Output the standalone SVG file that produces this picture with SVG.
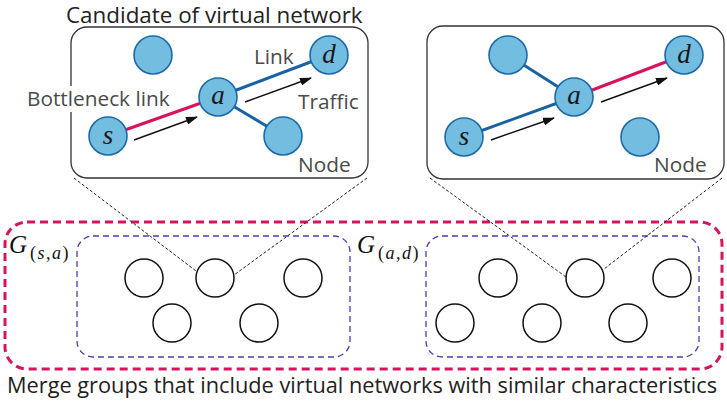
<svg xmlns="http://www.w3.org/2000/svg" width="727" height="403" viewBox="0 0 727 403">
  <style>
    .panel { fill: #ffffff; stroke: #333333; stroke-width: 1.3; }
    .vn { fill: #72bde0; stroke: #1c6aa8; stroke-width: 1.6; }
    .lk { stroke: #1a62a3; stroke-width: 3; fill: none; }
    .bn { stroke: #d8135d; stroke-width: 3; fill: none; }
    .flow { stroke: #111111; stroke-width: 1.4; fill: none; marker-end: url(#head); }
    .var { font-family: "Liberation Serif", serif; font-style: italic; font-size: 27px; fill: #1a1a1a; text-anchor: middle; }
    .lbl { font-family: "Open Sans", "Noto Sans", sans-serif; font-size: 20.8px; fill: #4a4a4a; }
    .ttl { font-family: "Open Sans", "Noto Sans", sans-serif; font-size: 22.4px; fill: #222222; }
    .grp { fill: none; stroke: #4a3db0; stroke-width: 1.3; stroke-dasharray: 6 4; }
    .merge { fill: none; stroke: #d8135d; stroke-width: 3; stroke-dasharray: 8 5; }
    .cand { fill: #ffffff; stroke: #111111; stroke-width: 1.5; }
    .zoomline { stroke: #222222; stroke-width: 1; stroke-dasharray: 3 2; fill: none; }
    .gsym { font-family: "Liberation Serif", serif; fill: #111111; }
    .it { font-style: italic; }
  </style>
  <defs>
    <marker id="head" viewBox="0 0 12 8" refX="11" refY="4" markerWidth="12" markerHeight="8" markerUnits="userSpaceOnUse" orient="auto">
      <path d="M0,0 L12,4 L0,8 Z" fill="#111111"/>
    </marker>
  </defs>

  <!-- title of the left panel -->
  <text class="ttl" x="66" y="23" font-size="22">Candidate of virtual network</text>

  <!-- left panel: bottleneck on (s,a) -->
  <g id="panel-sa">
    <rect class="panel" x="71" y="27" width="297" height="151" rx="16"/>
    <g id="links-sa">
      <line class="bn" x1="108" y1="136" x2="218" y2="97"/>
      <line class="lk" x1="218" y1="97" x2="329" y2="55"/>
      <line class="lk" x1="218" y1="97" x2="283" y2="136"/>
      <line class="flow" x1="134" y1="140" x2="197" y2="117"/>
      <line class="flow" x1="245" y1="102" x2="311" y2="78"/>
    </g>
    <g id="sa-n1"><circle class="vn" cx="153" cy="55" r="19"/></g>
    <g id="sa-d"><circle class="vn" cx="329" cy="55" r="19"/><text class="var" x="329" y="63">d</text></g>
    <g id="sa-a"><circle class="vn" cx="218" cy="97" r="19"/><text class="var" x="218" y="104">a</text></g>
    <g id="sa-s"><circle class="vn" cx="108" cy="136" r="19"/><text class="var" x="108" y="144">s</text></g>
    <g id="sa-n2"><circle class="vn" cx="283" cy="136" r="19"/></g>
    <text class="lbl" x="254" y="64">Link</text>
    <text class="lbl" x="298" y="109">Traffic</text>
    <text class="lbl" x="298" y="172">Node</text>
    <!-- the label sits over the panel edge, which is masked behind it -->
    <rect x="68" y="86" width="7" height="26" fill="#ffffff"/>
    <text class="lbl" x="27" y="106">Bottleneck link</text>
  </g>

  <!-- right panel: bottleneck on (a,d) -->
  <g id="panel-ad">
    <rect class="panel" x="427" y="26" width="297" height="153" rx="16"/>
    <g id="links-ad">
      <line class="lk" x1="464" y1="137" x2="574" y2="97"/>
      <line class="lk" x1="508" y1="55" x2="574" y2="97"/>
      <line class="bn" x1="574" y1="97" x2="684" y2="55"/>
      <line class="flow" x1="491" y1="140" x2="554" y2="118"/>
      <line class="flow" x1="601" y1="102" x2="667" y2="78"/>
    </g>
    <g id="ad-n1"><circle class="vn" cx="508" cy="55" r="19"/></g>
    <g id="ad-d"><circle class="vn" cx="684" cy="55" r="19"/><text class="var" x="684" y="63">d</text></g>
    <g id="ad-a"><circle class="vn" cx="574" cy="97" r="19"/><text class="var" x="574" y="104">a</text></g>
    <g id="ad-s"><circle class="vn" cx="464" cy="137" r="19"/><text class="var" x="464" y="145">s</text></g>
    <g id="ad-n2"><circle class="vn" cx="640" cy="137" r="19"/></g>
    <text class="lbl" x="654" y="172">Node</text>
  </g>

  <!-- merged set of groups -->
  <rect class="merge" x="5" y="222" width="717" height="147" rx="22"/>

  <!-- group G(s,a) -->
  <g id="group-sa">
    <rect class="grp" x="77" y="236" width="273" height="121" rx="16"/>
    <text class="gsym it" x="9" y="253" font-size="25">G</text>
    <text class="gsym" x="30" y="259" font-size="18" letter-spacing="1.5">(<tspan class="it">s</tspan>,<tspan class="it">a</tspan>)</text>
    <circle class="cand" cx="144" cy="278" r="19"/>
    <circle class="cand" cx="215" cy="278" r="19"/>
    <circle class="cand" cx="303" cy="278" r="19"/>
    <circle class="cand" cx="172" cy="323" r="19"/>
    <circle class="cand" cx="259" cy="323" r="19"/>
  </g>

  <!-- group G(a,d) -->
  <g id="group-ad">
    <rect class="grp" x="426" y="236" width="273" height="121" rx="16"/>
    <text class="gsym it" x="357" y="253" font-size="25">G</text>
    <text class="gsym" x="378" y="259" font-size="18" letter-spacing="1.5">(<tspan class="it">a</tspan>,<tspan class="it">d</tspan>)</text>
    <circle class="cand" cx="498" cy="278" r="19"/>
    <circle class="cand" cx="585" cy="278" r="19"/>
    <circle class="cand" cx="672" cy="278" r="19"/>
    <circle class="cand" cx="455" cy="323" r="19"/>
    <circle class="cand" cx="542" cy="323" r="19"/>
    <circle class="cand" cx="628" cy="323" r="19"/>
  </g>

  <!-- dotted leaders from each panel to its member -->
  <g id="connectors">
    <line class="zoomline" x1="74" y1="178" x2="196" y2="271"/>
    <line class="zoomline" x1="367" y1="178" x2="234" y2="275"/>
    <line class="zoomline" x1="430" y1="178" x2="566" y2="277"/>
    <line class="zoomline" x1="722" y1="178" x2="604" y2="269"/>
  </g>

  <text class="ttl" x="7" y="393" font-size="21" textLength="710" lengthAdjust="spacingAndGlyphs">Merge groups that include virtual networks with similar characteristics</text>
</svg>
